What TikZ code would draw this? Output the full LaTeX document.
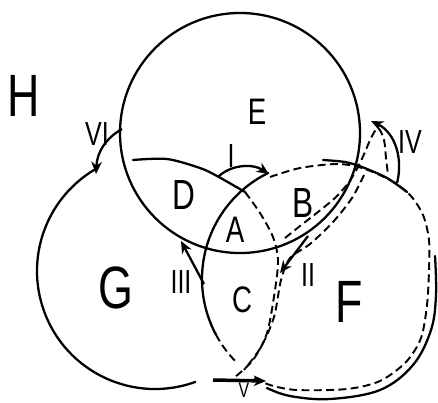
\documentclass[tikz,border=0pt]{standalone}
\usepackage{fontspec}
\usepackage{tikz}
\usetikzlibrary{arrows.meta}
\newfontfamily\handfont{Liberation Sans}[FakeStretch=0.75]

\begin{document}
\begin{tikzpicture}[
  x=0.02cm, y=-0.02cm,
  rim/.style      = {line width=1.3pt, line cap=round},
  ghost/.style    = {line width=1.1pt, dash pattern=on 4.5pt off 2.5pt},
  move/.style     = {line width=1.3pt, -{Stealth[length=7pt,width=6pt]}},
  bigtag/.style   = {font=\handfont\fontsize{34}{34}\selectfont, inner sep=0pt},
  midtag/.style   = {font=\handfont\fontsize{24}{24}\selectfont, inner sep=0pt},
  smalltag/.style = {font=\handfont\fontsize{21}{21}\selectfont, inner sep=0pt},
  numtag/.style   = {font=\handfont\fontsize{19}{19}\selectfont, inner sep=0pt},
]
  \useasboundingbox (0,0) rectangle (438,402);
  \clip (0,0) rectangle (438,402);

  % Centres
  \coordinate (Ec) at (240,133);
  \coordinate (Gc) at (155,271);
  \coordinate (Fc) at (320,279);

  % Circle E
  \draw[rim] (Ec) circle[radius=120];

  % Circle G
  \draw[rim] ([shift={(70:118)}]Gc) arc[start angle=70, end angle=239, radius=118];
  \draw[rim] plot[smooth] coordinates {(133,160) (167,159) (200,168) (217,176) (245,192)};
  \draw[ghost] plot[smooth] coordinates {(245,192) (260,213) (273,237) (278,260)
    (275,290) (267,333) (253,360) (235,377)};

  % Circle F
  \draw[rim] ([shift={(244:118)}]Fc) arc[start angle=244, end angle=152, radius=118];
  \draw[ghost] ([shift={(152:118)}]Fc) arc[start angle=152, end angle=135, radius=118];
  \draw[rim] plot[smooth] coordinates {(323,160) (345,162) (362,167) (387,178) (407,192)};
  \draw[rim] plot[smooth, tension=0.6] coordinates {(435,256) (436,295) (431,330)
    (413,365) (380,390) (330,399) (290,396) (267,388)};

  % Moved boundary
  \draw[ghost] plot[smooth] coordinates {(270,177) (300,168) (337,164) (362,168)
    (390,180) (410,195) (423,215) (429,240) (429,270) (427,305) (421,338)
    (406,362) (380,381) (347,389) (297,390) (270,385) (253,377)};
  \draw[ghost] plot[smooth] coordinates {(364,175) (352,198) (333,222) (310,244)
    (290,258) (281,280) (274,317) (261,347) (244,370)};
  \draw[ghost] plot[smooth] coordinates {(285,238) (300,226) (318,212) (336,197)
    (349,182) (358,167) (365,152) (371,138) (378,128) (384,140) (386,158) (388,175)};

  % Moves
  \coordinate (VIa) at (122,129);  \coordinate (VIb) at (96,174);
  \coordinate (Ia) at (218,177);   \coordinate (Ib) at (269,174);
  \coordinate (IIa) at (308,236);  \coordinate (IIb) at (280,273);
  \coordinate (IIIa) at (204,284); \coordinate (IIIb) at (181,241);
  \coordinate (IVa) at (397,183);  \coordinate (IVb) at (371,121);
  \coordinate (Va) at (213,380);   \coordinate (Vb) at (266,381);

  \draw[move] (VIa) .. controls (106,138) and (97,152) .. (VIb);
  \draw[move] (Ia) .. controls (230,165) and (252,163) .. (Ib);
  \draw[move] (IIa) -- (IIb);
  \draw[move] (IIIa) -- (IIIb);
  \draw[move] (IVa) .. controls (403,160) and (396,133) .. (IVb);
  \draw[move, line width=2pt] (Va) -- (Vb);

  % Regions
  \node[bigtag]   (tagH) at (24,96)   {H};
  \node[smalltag] (tagE) at (257,112) {E};
  \node[midtag]   (tagD) at (184,195) {D};
  \node[midtag]   (tagB) at (303,203) {B};
  \node[smalltag] (tagA) at (235,230) {A};
  \node[bigtag]   (tagG) at (116,288) {G};
  \node[smalltag] (tagC) at (242,300) {C};
  \node[bigtag]   (tagF) at (349,302) {F};

  % Move numbers
  \node[numtag] (numI)   at (231,156) {I};
  \node[numtag] (numII)  at (308,275) {II};
  \node[numtag] (numIII) at (181,282) {III};
  \node[numtag] (numIV)  at (410,142) {IV};
  \node[numtag, font=\handfont\fontsize{12}{12}\selectfont] (numV) at (244,390) {V};
  \node[numtag] (numVI)  at (97,134)  {VI};
\end{tikzpicture}
\end{document}
